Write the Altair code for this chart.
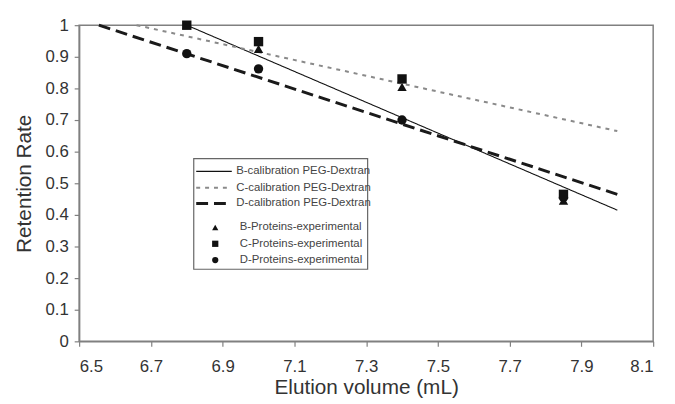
import altair as alt
import pandas as pd

# calibration lines (where each enters the plot at y=1, and its end at 8.0 mL)
line_names = ["B-calibration PEG-Dextran", "C-calibration PEG-Dextran", "D-calibration PEG-Dextran"]
b_line_x = [6.8, 8.0]
b_line_y = [1.0, 0.415]
c_line_x = [6.66, 8.0]
c_line_y = [1.0, 0.665]
d_line_x = [6.555, 8.0]
d_line_y = [1.0, 0.465]

# experimental proteins
prot_names = ["B-Proteins-experimental", "C-Proteins-experimental", "D-Proteins-experimental"]
prot_x = [6.8, 7.0, 7.4, 7.85]
b_prot_y = [1.0, 0.925, 0.805, 0.445]
c_prot_y = [1.0, 0.948, 0.83, 0.465]
d_prot_y = [0.91, 0.862, 0.70, 0.455]

x_ticks = [6.5, 6.7, 6.9, 7.1, 7.3, 7.5, 7.7, 7.9, 8.1]
y_ticks = [0, 0.1, 0.2, 0.3, 0.4, 0.5, 0.6, 0.7, 0.8, 0.9, 1]

rows = []
for name, xs, ys in zip(line_names, [b_line_x, c_line_x, d_line_x], [b_line_y, c_line_y, d_line_y]):
    for i, (xv, yv) in enumerate(zip(xs, ys)):
        rows.append({"series": name, "x": xv, "y": yv, "order": i})
lines_df = pd.DataFrame(rows)

prow = []
# draw order: D, B, C (squares on top)
for name, ys in [(prot_names[2], d_prot_y), (prot_names[0], b_prot_y), (prot_names[1], c_prot_y)]:
    for xv, yv in zip(prot_x, ys):
        prow.append({"protein": name, "x": xv, "y": yv})
prot_df = pd.DataFrame(prow)

FONT = "Liberation Sans"

xenc = alt.X("x:Q", scale=alt.Scale(domain=[6.5, 8.1], nice=False, zero=False),
             axis=alt.Axis(title="Elution volume (mL)", values=x_ticks, format=".1f"))
yenc = alt.Y("y:Q", scale=alt.Scale(domain=[0, 1], nice=False),
             axis=alt.Axis(title="Retention Rate", values=y_ticks, format="~g"))

box = alt.Chart(alt.Data(values=[{}])).mark_rect(
    fill="white", stroke="#666666", strokeWidth=1.2
).encode(x=alt.value(116), x2=alt.value(292), y=alt.value(135), y2=alt.value(247))

line_legend = alt.Legend(title=None, orient="none", legendX=126, legendY=138,
                         symbolType="M-2,0H2", symbolSize=324, labelOffset=12,
                         rowPadding=0, padding=0, labelFontSize=11.5, labelColor="#444444",
                         labelFont=FONT)

lines = alt.Chart(lines_df).mark_line().encode(
    x=xenc, y=yenc, order="order:Q",
    strokeDash=alt.StrokeDash("series:N",
        scale=alt.Scale(domain=line_names, range=[[1, 0], [4, 5], [12, 6]]),
        legend=line_legend),
    color=alt.Color("series:N",
        scale=alt.Scale(domain=line_names, range=["#111111", "#8a8a8a", "#1a1a1a"]),
        legend=line_legend),
    strokeWidth=alt.StrokeWidth("series:N",
        scale=alt.Scale(domain=line_names, range=[1.1, 3.0, 2.6]),
        legend=line_legend),
)

points = alt.Chart(prot_df).mark_point(filled=True, color="#111111", opacity=1, size=90).encode(
    x=xenc, y=yenc,
    shape=alt.Shape("protein:N",
        scale=alt.Scale(domain=prot_names, range=["triangle-up", "square", "circle"]),
        legend=alt.Legend(title=None, orient="none", legendX=132, legendY=199,
                          symbolSize=40, symbolFillColor="#111111", symbolStrokeColor="#111111",
                          symbolOpacity=1, labelOffset=19, rowPadding=3.5, padding=0,
                          labelFontSize=11.5, labelColor="#444444", labelFont=FONT)),
)

chart = alt.layer(box, lines, points).properties(
    width=581, height=320,
    autosize=alt.AutoSizeParams(type="none"),
    padding={"left": 72, "top": 15, "right": 14, "bottom": 60},
).configure_view(
    stroke="#808080", strokeWidth=1.5
).configure_axis(
    grid=False, domainColor="#808080", domainWidth=1.5, tickColor="#808080", tickWidth=1.2,
    tickSize=5, labelFont=FONT, titleFont=FONT, labelFontSize=17, titleFontSize=21,
    labelColor="#333333", titleColor="#333333", titleFontWeight="normal"
).configure_axisX(
    labelPadding=13, titlePadding=2
).configure_axisY(
    labelPadding=6, titlePadding=11
)

chart.save("out.html", embed_options={"renderer": "svg", "actions": False})
